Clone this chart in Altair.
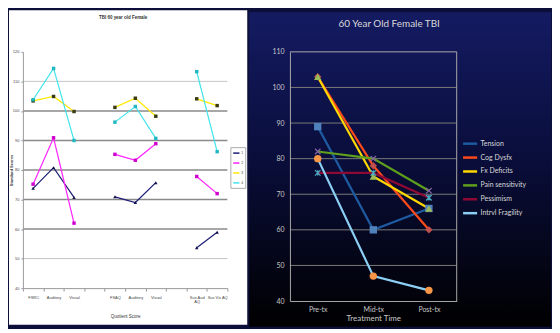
import json
import altair as alt
import pandas as pd

# ---------------- Left panel: IVA quotient scores ----------------
left_title = "TBI 60 year old Female"
left_categories = ["FSRC", "Auditory", "Visual", "", "FSAQ", "Auditory", "Visual", "",
                   "Sus Aud|AQ", "Sus Vis AQ"]
left_series = ["1", "2", "3", "4"]
left_s1 = [73.8, 80.8, 70.7, None, 70.9, 69.0, 75.7, None, 53.7, 58.9]
left_s2 = [75.2, 90.9, 62.0, None, 85.3, 83.3, 88.9, None, 77.8, 72.0]
left_s3 = [103.4, 104.9, 99.8, None, 101.2, 104.3, 98.2, None, 104.1, 101.8]
left_s4 = [103.8, 114.4, 90.0, None, 96.2, 101.5, 90.7, None, 113.3, 86.2]
left_ticks = [40, 50, 60, 70, 80, 90, 100, 110, 120]

# ---------------- Right panel: treatment time ----------------
right_title = "60 Year Old Female TBI"
right_times = ["Pre-tx", "Mid-tx", "Post-tx"]
right_series = ["Tension", "Cog Dysfx", "Fx Deficits", "Pain sensitivity", "Pessimism",
                "Intrvl Fragility"]
tension = [89, 60, 66]
cog_dysfx = [103, 78, 60]
fx_deficits = [103, 75, 66]
pain_sensitivity = [82, 80, 71]
pessimism = [76, 76, 69]
intrvl_fragility = [80, 47, 43]
right_ticks = [40, 50, 60, 70, 80, 90, 100, 110]

# ---------------- tables ----------------
rows = []
for s, vals in zip(left_series, [left_s1, left_s2, left_s3, left_s4]):
    grp = 0
    for i, v in enumerate(vals):
        if left_categories[i] == "":
            grp += 1
            continue
        if v is not None:
            rows.append({"cat": str(i), "grp": grp, "series": s, "mk": "m" + s, "value": v})
left_df = pd.DataFrame(rows)

rrows = []
for s, vals in zip(right_series, [tension, cog_dysfx, fx_deficits, pain_sensitivity,
                                  pessimism, intrvl_fragility]):
    for ti, (t, v) in enumerate(zip(right_times, vals)):
        rrows.append({"time": t, "ti": ti, "series": s, "mk": "m" + s, "value": v})
right_df = pd.DataFrame(rrows)

left_grid_df = pd.DataFrame({"value": left_ticks[1:-1]})
right_grid_df = pd.DataFrame({"value": right_ticks[1:]})
one = alt.Data(values=[{"a": 1}])

# ---------------- left chart ----------------
LW, LH = 206, 238
lfont = "Liberation Sans"
label_arr = json.dumps(left_categories)
lx = alt.X(
    "cat:O", bandPosition=0.5,
    scale=alt.Scale(type="band", domain=[str(i) for i in range(len(left_categories))],
                    paddingInner=0, paddingOuter=0),
    axis=alt.Axis(title="Quotient Score",
                  labelExpr=f"split(({label_arr}[toNumber(datum.value)]) || '', '|')",
                  labelAngle=0, labelFontSize=4, labelFont=lfont, labelColor="#444444",
                  labelLineHeight=5, labelPadding=4, tickBand="extent", tickSize=3,
                  tickColor="#999999", domainColor="#999999", titleFontSize=4.5,
                  titleFont=lfont, titleColor="#333333", titleFontWeight="normal",
                  titlePadding=10, zindex=1),
)
lscale_y = alt.Scale(domain=[40, 120])
laxis_y = alt.Axis(values=left_ticks, title="Standard Scores", titleFontSize=4,
                   titleFont=lfont, titleColor="#333333", titleFontWeight="bold",
                   titleAngle=270, titleX=-11, titleY=LH / 2, titleAlign="center",
                   titleBaseline="middle", labelOverlap=False,
                   labelFontSize=4, labelFont=lfont, labelColor="#444444", labelPadding=2,
                   tickSize=2, tickColor="#999999", domainColor="#999999",
                   grid=False, zindex=1)
ly = alt.Y("value:Q", scale=lscale_y, axis=laxis_y)

left_bg = alt.Chart(one).mark_rect(fill="#ffffff").encode(
    x=alt.value(-14), x2=alt.value(226), y=alt.value(-42), y2=alt.value(275))

dark_test = "datum.value >= 60 && datum.value <= 100"
left_grid = alt.Chart(left_grid_df).mark_rule().encode(
    y=ly, x=alt.value(0), x2=alt.value(LW),
    color=alt.condition(dark_test, alt.value("#8a8a8a"), alt.value("#c4c4c4")),
    strokeWidth=alt.condition(dark_test, alt.value(1.6), alt.value(1)),
)

left_lines = alt.Chart(left_df).mark_line(strokeWidth=1.2).encode(
    x=lx, y=ly, detail="grp:N",
    color=alt.Color("series:N",
                    scale=alt.Scale(domain=left_series,
                                    range=["#1c1c74", "#ff22ff", "#ffe800", "#3fe3ec"]),
                    legend=alt.Legend(orient="none", legendX=209, legendY=96, title=None,
                                      symbolType="stroke", symbolStrokeWidth=1.5,
                                      symbolSize=40, labelFontSize=3.5, labelFont=lfont,
                                      labelColor="#444444", rowPadding=3, padding=2,
                                      strokeColor="#aaaaaa", fillColor="#ffffff",
                                      labelOffset=1)),
)
left_points = alt.Chart(left_df).mark_point(filled=True, size=12, opacity=1).encode(
    x=lx, y=ly,
    shape=alt.Shape("mk:N",
                    scale=alt.Scale(domain=["m" + s for s in left_series],
                                    range=["triangle-up", "square", "square", "square"]),
                    legend=None),
    fill=alt.Fill("mk:N",
                  scale=alt.Scale(domain=["m" + s for s in left_series],
                                  range=["#10104a", "#d000d0", "#3a3a10", "#20b8c0"]),
                  legend=None),
)

left = alt.layer(left_bg, left_grid, left_lines, left_points).properties(
    width=LW, height=LH,
    title=alt.TitleParams(left_title, frame="group", anchor="middle", fontSize=4.5,
                          font=lfont, color="#333333", fontWeight="bold", offset=-12,
                          baseline="middle", dx=-2),
    view=alt.ViewBackground(stroke="transparent"),
)

# ---------------- right chart ----------------
RW, RH = 168, 251
rfont = "Lato"
frame_col = "#a8a8a8"
time_arr = json.dumps(right_times)
rx = alt.X(
    "ti:Q",
    scale=alt.Scale(domain=[-0.5, len(right_times) - 0.5], nice=False, zero=False),
    axis=alt.Axis(title="Treatment Time", values=list(range(len(right_times))),
                  labelExpr=f"{time_arr}[datum.value] || ''",
                  labelAngle=0, labelFontSize=7, labelFont=rfont,
                  labelColor="#c8c8c8", labelPadding=5, ticks=False, grid=False,
                  domain=True, domainColor=frame_col, domainWidth=1,
                  titleFontSize=8, titleFont=rfont, titleColor="#c8c8c8",
                  titleFontWeight="normal", titlePadding=2, zindex=1),
)
rscale_y = alt.Scale(domain=[40, 110])
raxis_y = alt.Axis(values=right_ticks, title=None, labelFontSize=7, labelFont=rfont,
                   labelColor="#c8c8c8", labelPadding=6, ticks=False, domain=True,
                   domainColor=frame_col, domainWidth=1,
                   labelOverlap=False, grid=False, zindex=1)
ry = alt.Y("value:Q", scale=rscale_y, axis=raxis_y)

right_bg = alt.Chart(one).mark_rect(
    fill=alt.LinearGradient(gradient="linear", x1=0, x2=0, y1=0, y2=1,
                            stops=[alt.GradientStop(color="#141b62", offset=0),
                                   alt.GradientStop(color="#0a0e3c", offset=0.45),
                                   alt.GradientStop(color="#000000", offset=1)]),
).encode(x=alt.value(-41), x2=alt.value(263), y=alt.value(-40), y2=alt.value(277))

grid_top_test = "datum.value == 110"
right_grid = alt.Chart(right_grid_df).mark_rule(strokeWidth=1).encode(
    y=ry, x=alt.value(0), x2=alt.value(RW),
    color=alt.condition(grid_top_test, alt.value(frame_col), alt.value("#7a7a7a")))

right_edge = alt.Chart(one).mark_rule(color=frame_col, strokeWidth=1).encode(
    x=alt.value(RW), y=alt.value(0), y2=alt.value(RH))

line_colors = ["#1e5aa0", "#ff4a1c", "#ffd800", "#5e9f1c", "#8e0a35", "#8ccff5"]
marker_colors = ["#4f81bd", "#c0504d", "#9bbb59", "#8064a2", "#4bacc6", "#f79646"]
marker_shapes = ["square", "diamond", "triangle-up", "M-1,-1L1,1M-1,1L1,-1",
                 "M-1,-1L1,1M-1,1L1,-1M0,-1L0,1", "circle"]
marker_keys = ["m" + s for s in right_series]

right_lines = alt.Chart(right_df).mark_line(strokeWidth=2.2).encode(
    x=rx, y=ry,
    stroke=alt.Stroke("series:N",
                      scale=alt.Scale(domain=right_series, range=line_colors),
                      legend=alt.Legend(orient="none", legendX=173, legendY=84, title=None,
                                        symbolType="stroke", symbolStrokeWidth=2.5,
                                        symbolSize=200, labelFontSize=7, labelFont=rfont,
                                        labelColor="#d9d9d9", rowPadding=-1, padding=0,
                                        labelOffset=2)),
)
shape_enc = alt.Shape("mk:N", scale=alt.Scale(domain=marker_keys, range=marker_shapes),
                      legend=None)
color_enc = alt.Color("mk:N", scale=alt.Scale(domain=marker_keys, range=marker_colors),
                      legend=None)
right_points_f = alt.Chart(right_df).transform_filter(
    alt.FieldOneOfPredicate(field="series",
                            oneOf=["Tension", "Cog Dysfx", "Fx Deficits", "Intrvl Fragility"])
).mark_point(filled=True, size=55, opacity=1).encode(
    x=rx, y=ry, shape=shape_enc, color=color_enc)
right_points_s = alt.Chart(right_df).transform_filter(
    alt.FieldOneOfPredicate(field="series", oneOf=["Pain sensitivity", "Pessimism"])
).mark_point(filled=False, size=30, strokeWidth=1.3, opacity=1).encode(
    x=rx, y=ry, shape=shape_enc, color=color_enc)

right = alt.layer(right_bg, right_grid, right_edge, right_lines, right_points_f,
                  right_points_s).properties(
    width=RW, height=RH,
    title=alt.TitleParams(right_title, frame="group", anchor="middle", fontSize=10,
                          font=rfont, color="#d9d9d9", fontWeight="normal", offset=-20,
                          baseline="middle", dx=16, dy=2),
    view=alt.ViewBackground(stroke="transparent"),
)

chart = alt.hconcat(left, right, spacing=0, padding=0).resolve_scale(
    color="independent", shape="independent", fill="independent", stroke="independent",
    x="independent", y="independent",
).configure(background="#0b0f3a").configure_view(stroke="transparent")

chart.save("out.html", embed_options={"renderer": "svg", "actions": False})
